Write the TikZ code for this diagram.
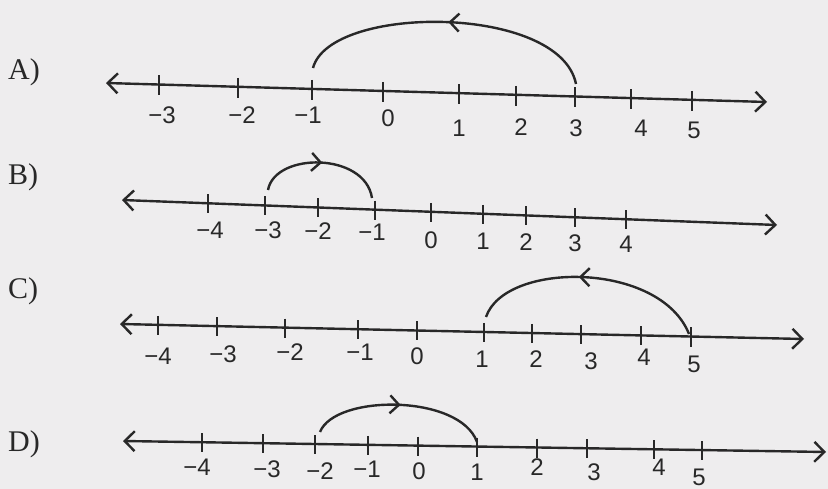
\documentclass[tikz,border=0pt]{standalone}
\usepackage{fontspec}
\setmainfont{Liberation Serif}
\newfontfamily\digitfont{Liberation Sans}
\usetikzlibrary{arrows.meta,decorations.markings}
\definecolor{inkc}{RGB}{40,40,40}
\definecolor{bgc}{RGB}{238,237,238}
\begin{document}
\begin{tikzpicture}[x=1pt,y=-1pt,
  ink/.style={draw=inkc,line width=2.4pt},
  nline/.style={ink,{Straight Barb[length=10pt,width=20pt]}-{Straight Barb[length=10pt,width=20pt]}},
  tickmark/.style={draw=inkc,line width=1.8pt},
  numlab/.style={font=\digitfont\fontsize{24}{24}\selectfont,text=inkc,inner sep=0pt},
  optlab/.style={font=\fontsize{30}{30}\selectfont,text=inkc,inner sep=0pt,anchor=west},
  jump/.style={ink,postaction={decorate},decoration={markings,mark=at position #1 with {\arrow{Straight Barb[length=9pt,width=18pt]}}}},
]
\fill[bgc] (0,0) rectangle (828,489);
\useasboundingbox (0,0) rectangle (828,489);

% option labels
\node[optlab] (optA) at (8,72) {A)};
\node[optlab] (optB) at (8,177) {B)};
\node[optlab] (optC) at (8,291) {C)};
\node[optlab] (optD) at (8,444) {D)};

% ---------- Row A ----------
\coordinate (aL) at (106,83);
\coordinate (aR) at (767,102);
\draw[nline] (aL) -- (aR);
\foreach \n/\x/\y/\lx/\ly/\t in {1/159/84.5/162/115/−3, 2/238/86.8/242/115/−2, 3/312/88.9/308/115/−1,
  4/383/91.0/388/118/0, 5/459/93.1/459/128/1, 6/516/94.8/521/127/2, 7/575/96.5/576/128/3,
  8/631/98.1/641/128/4, 9/692/99.8/694/130/5}{
  \coordinate (at\n) at (\x,\y);
  \draw[tickmark] ([yshift=9pt]at\n) -- ([yshift=-11pt]at\n);
  \node[numlab] (al\n) at (\lx,\ly) {\t};
}
\coordinate (aS) at (313,68);
\coordinate (aE) at (576,84);
\draw[jump=0.5] (aE) .. controls (560,4) and (330,4) .. (aS);

% ---------- Row B ----------
\coordinate (bL) at (122,200);
\coordinate (bR) at (777,225);
\draw[nline] (bL) -- (bR);
\foreach \n/\x/\y/\lx/\ly/\t in {1/208/203.3/210/230/−4, 2/265/205.5/268/230/−3, 3/318/207.5/318/231/−2,
  4/375/209.7/372/232/−1, 5/431/211.8/431/240/0, 6/483/213.8/483/241/1, 7/526/215.4/526/242/2,
  8/575/217.3/575/243/3, 9/626/219.2/626/244/4}{
  \coordinate (bt\n) at (\x,\y);
  \draw[tickmark] ([yshift=9pt]bt\n) -- ([yshift=-10pt]bt\n);
  \node[numlab] (bl\n) at (\lx,\ly) {\t};
}
\coordinate (bS) at (268,190);
\coordinate (bE) at (372,198);
\draw[jump=0.5] (bS) .. controls (275,152) and (365,152) .. (bE);

% ---------- Row C ----------
\coordinate (cL) at (120,324);
\coordinate (cR) at (804,339);
\draw[nline] (cL) -- (cR);
\foreach \n/\x/\y/\lx/\ly/\t in {1/158/324.8/158/356/−4, 2/217/326.1/223/354/−3, 3/285/327.6/290/352/−2,
  4/358/329.2/360/352/−1, 5/417/330.5/417/356/0, 6/484/332.0/482/359/1, 7/532/333.0/536/359/2,
  8/581/334.1/591/361/3, 9/641/335.4/644/357/4, 10/691/336.5/694/364/5}{
  \coordinate (ct\n) at (\x,\y);
  \draw[tickmark] ([yshift=9pt]ct\n) -- ([yshift=-10pt]ct\n);
  \node[numlab] (cl\n) at (\lx,\ly) {\t};
}
\coordinate (cS) at (486,317);
\coordinate (cE) at (689,334);
\draw[jump=0.55] (cE) .. controls (660,261) and (505,261) .. (cS);

% ---------- Row D ----------
\coordinate (dL) at (123,441);
\coordinate (dR) at (826,452);
\draw[nline] (dL) -- (dR);
\foreach \n/\x/\y/\lx/\ly/\t in {1/202/442.2/197/467/−4, 2/263/443.2/267/469/−3, 3/315/444.0/320/471/−2,
  4/368/444.8/367/469/−1, 5/418/445.6/419/471/0, 6/477/446.5/477/472/1, 7/537/447.5/537/467/2,
  8/587/448.3/594/472/3, 9/654/449.3/659/467/4, 10/702/450.1/699/477/5}{
  \coordinate (dt\n) at (\x,\y);
  \draw[tickmark] ([yshift=9pt]dt\n) -- ([yshift=-10pt]dt\n);
  \node[numlab] (dl\n) at (\lx,\ly) {\t};
}
\coordinate (dS) at (320,432);
\coordinate (dE) at (477,442);
\draw[jump=0.5] (dS) .. controls (335,394) and (460,394) .. (dE);
\end{tikzpicture}
\end{document}
